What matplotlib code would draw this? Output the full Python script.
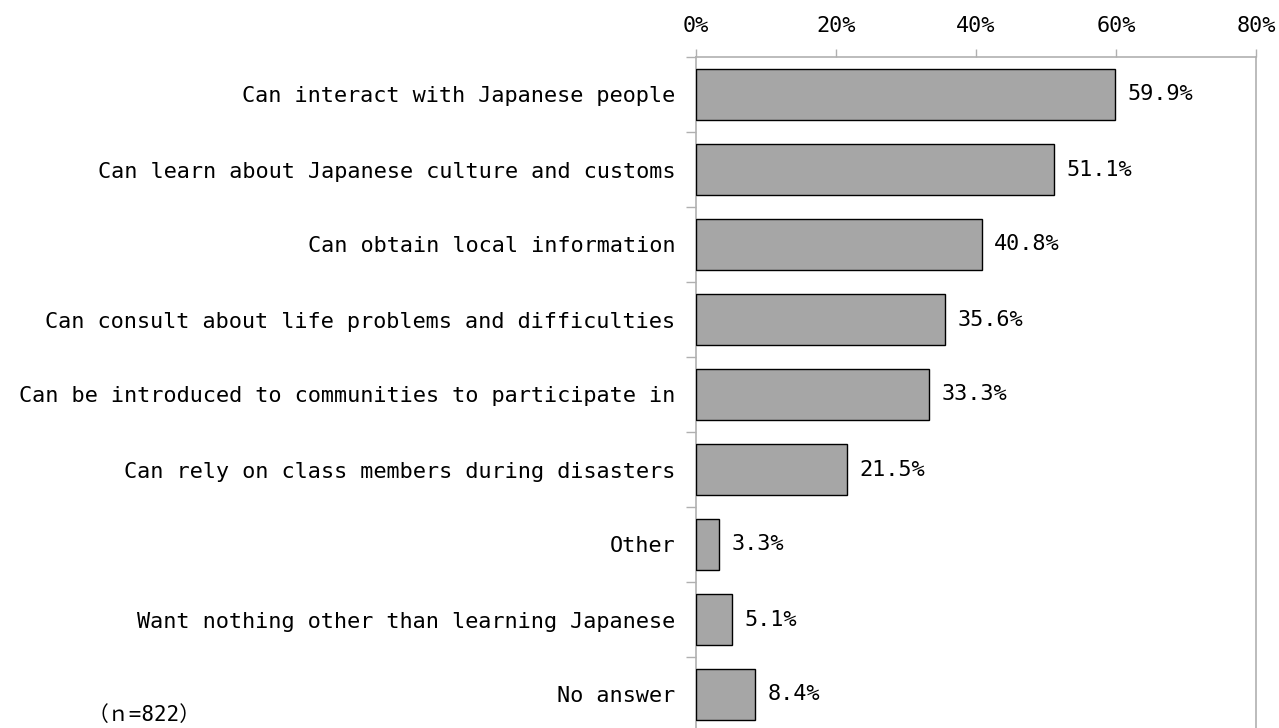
import matplotlib
matplotlib.use("Agg")
import matplotlib.pyplot as plt
from matplotlib.ticker import FuncFormatter

plt.rcParams['font.family'] = ['DejaVu Sans Mono', 'Noto Sans CJK JP']

categories = [
    "Can interact with Japanese people",
    "Can learn about Japanese culture and customs",
    "Can obtain local information",
    "Can consult about life problems and difficulties",
    "Can be introduced to communities to participate in",
    "Can rely on class members during disasters",
    "Other",
    "Want nothing other than learning Japanese",
    "No answer",
]
values = [59.9, 51.1, 40.8, 35.6, 33.3, 21.5, 3.3, 5.1, 8.4]
xticks = [0, 20, 40, 60, 80]
note = "（ｎ=822）"

W, H = 1279, 728
fig = plt.figure(figsize=(W / 100, H / 100), dpi=100)
ax_left, ax_right = 696 / W, 1256 / W
ax_top, ax_bottom = 1 - 57 / H, 1 - 732 / H
ax = fig.add_axes([ax_left, ax_bottom, ax_right - ax_left, ax_top - ax_bottom])

FS = 15.75
y = list(range(len(categories)))
ax.barh(y, values, height=0.68, color="#a6a6a6", edgecolor="#000000", linewidth=1.0, zorder=3)
ax.set_ylim(len(categories) - 0.5, -0.5)
ax.set_xlim(0, 80)

for yi, v in zip(y, values):
    ax.text(v + 1.8, yi, f"{v:.1f}%", va="center", ha="left", fontsize=FS, color="#000000")

ax.xaxis.tick_top()
ax.set_xticks(xticks)
ax.xaxis.set_major_formatter(FuncFormatter(lambda x, p: f"{x:.0f}%"))
ax.tick_params(axis="x", direction="out", length=6, width=1, color="#b0b0b0", pad=9, labelsize=FS)

ax.set_yticks([i - 0.5 for i in range(len(categories) + 1)])
ax.set_yticklabels([])
ax.set_yticks(y, minor=True)
ax.set_yticklabels(categories, minor=True)
ax.tick_params(axis="y", which="major", direction="out", length=7, width=1, color="#b0b0b0")
ax.tick_params(axis="y", which="minor", length=0, pad=15, labelsize=FS)

for s in ["top", "right", "left", "bottom"]:
    ax.spines[s].set_color("#b0b0b0")
    ax.spines[s].set_linewidth(1.2)

fig.text(88 / W, 3 / H, note, fontsize=15, ha="left", va="bottom")

fig.savefig("out.png", dpi=100)
